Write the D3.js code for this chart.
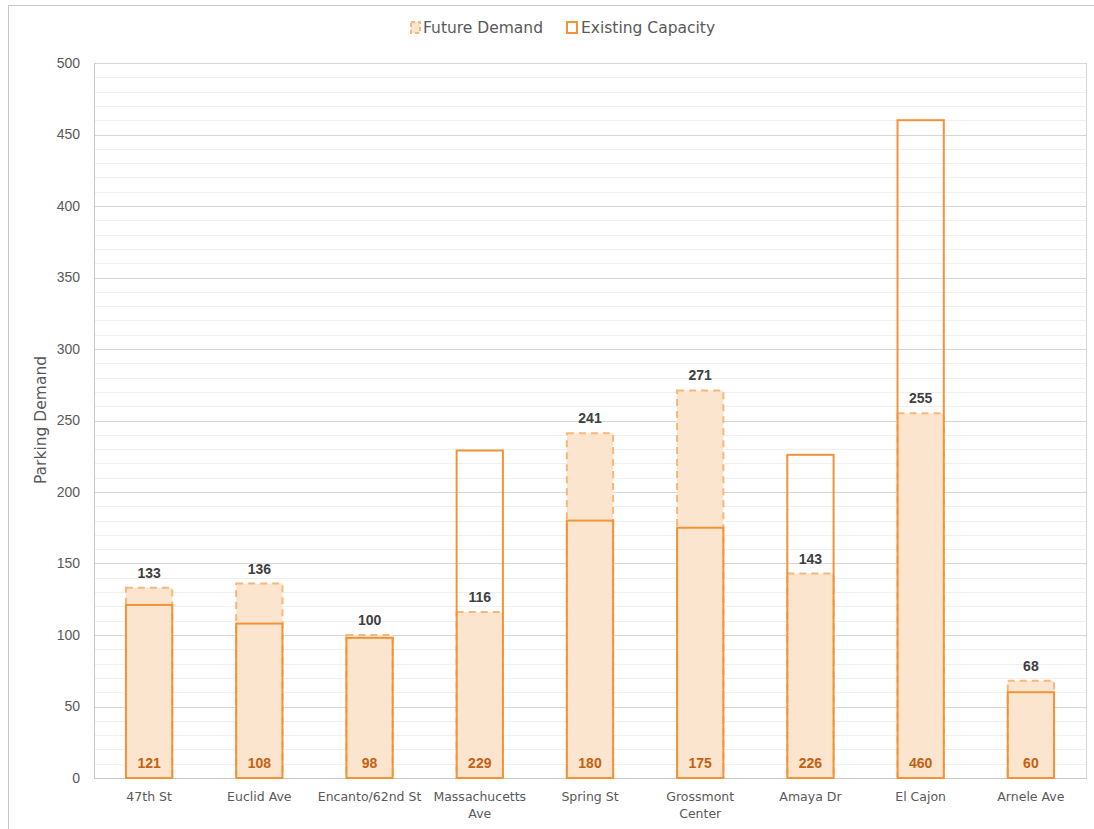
<!DOCTYPE html>
<html>
<head>
<meta charset="utf-8">
<script src="https://cdn.jsdelivr.net/npm/d3@7"></script>
<style>
  body { margin: 0; background: #fff; }
  svg { display: block; font-family: "Liberation Sans", Arial, sans-serif; }
  .wide { font-family: "DejaVu Sans", "Liberation Sans", sans-serif; }
</style>
</head>
<body>
<svg id="chart" width="1094" height="829"></svg>
<script>
// Station names (line breaks where the axis wraps them)
const stations = ["47th St", "Euclid Ave", "Encanto/62nd St", "Massachucetts\nAve", "Spring St",
                  "Grossmont\nCenter", "Amaya Dr", "El Cajon", "Arnele Ave"];
const futureDemand = [133, 136, 100, 116, 241, 271, 143, 255, 68];
const existingCapacity = [121, 108, 98, 229, 180, 175, 226, 460, 60];
const yTicks = [0, 50, 100, 150, 200, 250, 300, 350, 400, 450, 500];

const svg = d3.select("#chart");
const W = 1094, H = 829;
const plot = { left: 94, right: 1086, top: 63, bottom: 778 };

const orange = "#f39338";
const dashOrange = "#f8b77a";
const peach = "#fce5cf";
const darkOrange = "#c4600f";

// outer frame
svg.append("rect").attr("x", 8.5).attr("y", 5.5).attr("width", W).attr("height", H)
  .attr("fill", "none").attr("stroke", "#c8c8c8").attr("stroke-width", 1);

const x = d3.scaleBand().domain(d3.range(stations.length))
  .range([plot.left, plot.right]).paddingInner(0.58).paddingOuter(0.29);
const y = d3.scaleLinear().domain([0, 500]).range([plot.bottom, plot.top]);

// minor gridlines every 10
const g = svg.append("g");
g.selectAll("line.minor").data(d3.range(0, 501, 10).filter(v => v % 50 !== 0))
  .join("line").attr("class", "minor")
  .attr("x1", plot.left).attr("x2", plot.right)
  .attr("y1", d => Math.round(y(d)) + 0.5).attr("y2", d => Math.round(y(d)) + 0.5)
  .attr("stroke", "#efefef").attr("stroke-width", 1);
// major gridlines
g.selectAll("line.major").data(yTicks.filter(v => v > 0))
  .join("line").attr("class", "major")
  .attr("x1", plot.left).attr("x2", plot.right)
  .attr("y1", d => Math.round(y(d)) + 0.5).attr("y2", d => Math.round(y(d)) + 0.5)
  .attr("stroke", "#d6d6d6").attr("stroke-width", 1);

// plot frame: left, right and bottom
svg.append("line").attr("x1", plot.left + 0.5).attr("x2", plot.left + 0.5)
  .attr("y1", plot.top).attr("y2", plot.bottom).attr("stroke", "#c8c8c8");
svg.append("line").attr("x1", plot.right + 0.5).attr("x2", plot.right + 0.5)
  .attr("y1", plot.top).attr("y2", plot.bottom).attr("stroke", "#d6d6d6");
svg.append("line").attr("x1", plot.left).attr("x2", plot.right + 1)
  .attr("y1", plot.bottom + 0.5).attr("y2", plot.bottom + 0.5).attr("stroke", "#c8c8c8");

// y axis
const yAxis = d3.axisLeft(y).tickValues(yTicks).tickSize(0).tickPadding(14);
const ya = svg.append("g").attr("transform", `translate(${plot.left},0)`).call(yAxis);
ya.select(".domain").remove();
ya.selectAll("text").attr("font-size", 14).attr("fill", "#595959");

svg.append("text").attr("class", "wide")
  .attr("transform", `translate(46,420) rotate(-90)`)
  .attr("text-anchor", "middle").attr("font-size", 15.5).attr("fill", "#595959")
  .text("Parking Demand");

// future demand bars: filled, dashed outline
const bw = x.bandwidth();
svg.selectAll("rect.future").data(futureDemand).join("rect").attr("class", "future")
  .attr("x", (d, i) => x(i)).attr("width", bw)
  .attr("y", d => y(d)).attr("height", d => y(0) - y(d))
  .attr("fill", peach).attr("stroke", dashOrange).attr("stroke-width", 2)
  .attr("stroke-dasharray", "7,5");

// existing capacity bars: outline only
svg.selectAll("rect.cap").data(existingCapacity).join("rect").attr("class", "cap")
  .attr("x", (d, i) => x(i)).attr("width", bw)
  .attr("y", d => y(d)).attr("height", d => y(0) - y(d))
  .attr("fill", "none").attr("stroke", orange).attr("stroke-width", 2);

// future demand labels above bars
svg.selectAll("text.flab").data(futureDemand).join("text").attr("class", "flab")
  .attr("x", (d, i) => x(i) + bw / 2).attr("y", d => y(d) - 10)
  .attr("text-anchor", "middle").attr("font-size", 14).attr("font-weight", "bold")
  .attr("fill", "#404040").text(d => d);

// capacity labels at bar base
svg.selectAll("text.clab").data(existingCapacity).join("text").attr("class", "clab")
  .attr("x", (d, i) => x(i) + bw / 2).attr("y", plot.bottom - 10)
  .attr("text-anchor", "middle").attr("font-size", 14).attr("font-weight", "bold")
  .attr("fill", darkOrange).text(d => d);

// category labels
const xl = svg.selectAll("text.xlab").data(stations).join("text").attr("class", "xlab wide")
  .attr("x", (d, i) => x(i) + bw / 2).attr("y", plot.bottom + 23)
  .attr("text-anchor", "middle").attr("font-size", 12.5).attr("fill", "#595959");
xl.each(function(d) {
  const t = d3.select(this);
  d.split("\n").forEach((line, k) => {
    t.append("tspan").attr("x", t.attr("x")).attr("dy", k === 0 ? 0 : 17).text(line);
  });
});

// legend
const lg = svg.append("g");
lg.append("rect").attr("x", 411).attr("y", 22).attr("width", 9).attr("height", 11)
  .attr("fill", peach).attr("stroke", dashOrange).attr("stroke-width", 2).attr("stroke-dasharray", "4,3");
lg.append("text").attr("class", "wide").attr("x", 423).attr("y", 33).attr("font-size", 15.5)
  .attr("fill", "#595959").text("Future Demand");
lg.append("rect").attr("x", 567).attr("y", 22).attr("width", 10).attr("height", 11)
  .attr("fill", "none").attr("stroke", orange).attr("stroke-width", 2);
lg.append("text").attr("class", "wide").attr("x", 581).attr("y", 33).attr("font-size", 15.5)
  .attr("fill", "#595959").text("Existing Capacity");
</script>
</body>
</html>
